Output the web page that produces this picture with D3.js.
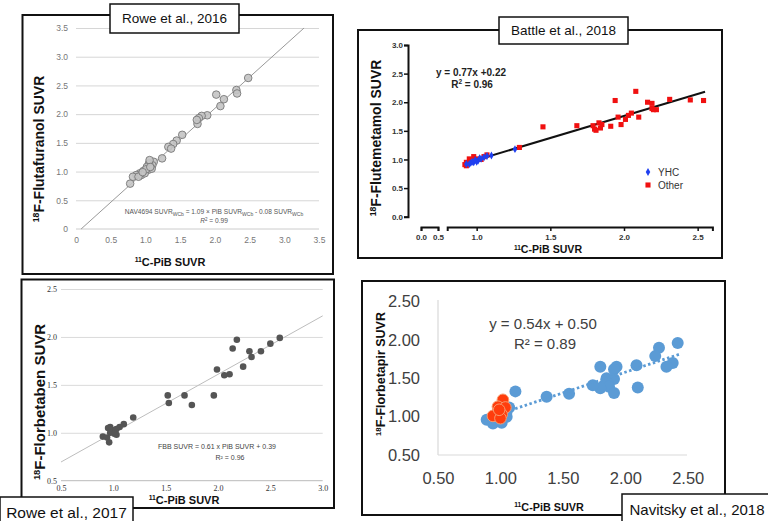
<!DOCTYPE html>
<html>
<head>
<meta charset="utf-8">
<script src="https://cdn.jsdelivr.net/npm/d3@7"></script>
<style>
body { margin: 0; background: #fff; }
text { font-family: "Liberation Sans", Arial, sans-serif; }
</style>
</head>
<body>
<div id="canvas"></div>
<script>
// Rowe et al., 2016 (flutafuranol vs PiB)
const rowe16Points = [
    [0.78, 0.79], [2.48, 2.63], [2.31, 2.42], [2.32, 2.36], [2.02, 2.34], [2.13, 2.26],
    [2.08, 2.14], [1.89, 1.98], [1.81, 1.97], [1.77, 1.93], [1.75, 1.83], [1.74, 1.90],
    [1.53, 1.64], [1.45, 1.54], [1.40, 1.48], [1.33, 1.43], [1.37, 1.40], [1.24, 1.23],
    [1.12, 1.17], [1.10, 1.11], [1.05, 1.14], [1.02, 1.08], [1.04, 1.03], [0.97, 1.01],
    [0.92, 0.97], [0.87, 0.94], [0.94, 0.94], [0.82, 0.91], [0.99, 0.97], [1.09, 1.05],
    [0.90, 0.91], [1.01, 1.04], [1.06, 1.20], [1.07, 1.08], [0.96, 0.99]
];
const rowe16Fit = [1.09, -0.08];
const rowe16Ticks = [0, 0.5, 1, 1.5, 2, 2.5, 3, 3.5];

// Battle et al., 2018 (flutemetamol vs PiB)
const battleOther = [
    [2.54, 2.03], [2.45, 2.04], [2.31, 2.05], [2.08, 2.19], [1.94, 2.03], [2.16, 2.00],
    [2.19, 1.98], [2.19, 1.89], [2.22, 1.87], [2.20, 1.87], [2.05, 1.81], [2.03, 1.77],
    [2.10, 1.74], [1.96, 1.74], [2.01, 1.70], [1.98, 1.61], [1.91, 1.58], [1.83, 1.64],
    [1.85, 1.61], [1.79, 1.59], [1.80, 1.53], [1.81, 1.51], [1.84, 1.55], [1.68, 1.59],
    [1.45, 1.57], [1.29, 1.21], [1.07, 1.08], [1.05, 1.05], [1.03, 1.00], [0.98, 1.05],
    [0.95, 1.01], [0.93, 0.95], [0.92, 0.91], [0.93, 0.89], [1.01, 1.01]
];
const battleYHC = [
    [1.26, 1.18], [1.10, 1.07], [1.07, 1.06], [1.05, 1.04], [1.03, 1.01], [1.01, 0.98],
    [1.00, 0.96], [0.98, 0.95], [0.96, 0.94], [0.95, 0.92], [0.93, 0.92], [1.02, 1.02],
    [0.99, 0.99], [0.97, 0.96]
];
const battleFit = [0.77, 0.22];
const battleYTicks = [0, 0.5, 1, 1.5, 2, 2.5, 3];
const battleXTicksLow = [0, 0.5];
const battleXTicks = [1, 1.5, 2, 2.5];

// Rowe et al., 2017 (florbetaben vs PiB)
const rowe17Points = [
    [2.59, 1.99], [2.50, 1.93], [2.41, 1.85], [2.30, 1.85], [2.32, 1.79], [2.24, 1.69],
    [2.18, 1.97], [2.14, 1.88], [2.11, 1.61], [2.06, 1.60], [1.99, 1.66], [1.96, 1.39],
    [1.75, 1.29], [1.68, 1.39], [1.52, 1.39], [1.53, 1.31], [1.19, 1.16], [1.10, 1.09],
    [1.06, 1.06], [1.03, 1.04], [1.00, 1.01], [1.03, 0.98], [0.97, 1.06], [0.95, 1.05],
    [0.98, 1.03], [1.02, 1.03], [0.90, 0.96], [0.94, 0.95], [0.96, 0.90], [0.97, 1.00],
    [1.01, 0.99]
];
const rowe17Fit = [0.61, 0.39];
const rowe17XTicks = [0.5, 1, 1.5, 2, 2.5, 3];
const rowe17YTicks = [0.5, 1, 1.5, 2, 2.5];

// Navitsky et al., 2018 (florbetapir vs PiB)
const navBlue = [
    [2.42, 1.96], [2.27, 1.90], [2.24, 1.79], [2.38, 1.70], [2.33, 1.65], [2.09, 1.67],
    [2.10, 1.38], [1.93, 1.65], [1.91, 1.62], [1.80, 1.65], [1.85, 1.50], [1.91, 1.49],
    [1.86, 1.43], [1.83, 1.41], [1.87, 1.39], [1.91, 1.31], [1.80, 1.37], [1.74, 1.41],
    [1.55, 1.30], [1.37, 1.26], [1.12, 1.33], [1.07, 1.12], [1.05, 1.00], [0.89, 0.96],
    [0.94, 0.91], [1.01, 0.92], [0.97, 0.96], [1.02, 1.00], [1.05, 1.07]
];
const navRed = [
    [1.02, 1.22], [0.98, 1.13], [1.04, 1.12], [0.97, 1.04], [1.01, 1.03], [0.94, 1.01],
    [1.00, 0.98], [0.99, 1.09]
];
const navFit = [0.54, 0.50];
const navTicks = [0.5, 1, 1.5, 2, 2.5];

const svg = d3.select("#canvas").append("svg")
    .attr("width", 768)
    .attr("height", 521);

svg.append("rect").attr("width", 768).attr("height", 521).attr("fill", "#fff");

function frame(x, y, w, h) {
    svg.append("rect")
        .attr("x", x).attr("y", y)
        .attr("width", w).attr("height", h)
        .attr("fill", "none")
        .attr("stroke", "#111")
        .attr("stroke-width", 2);
}

function tag(x, y, w, h, label, size) {
    svg.append("rect")
        .attr("x", x).attr("y", y)
        .attr("width", w).attr("height", h)
        .attr("fill", "#fff")
        .attr("stroke", "#111")
        .attr("stroke-width", 1.5);
    svg.append("text")
        .attr("x", x + w / 2).attr("y", y + h / 2 + size * 0.36)
        .attr("text-anchor", "middle")
        .style("font-size", size + "px")
        .style("fill", "#111")
        .text(label);
}

// axis title with a superscript isotope prefix
function isoLabel(x, y, sup, rest, size, rotate) {
    const t = svg.append("text")
        .attr("transform", `translate(${x},${y})` + (rotate ? " rotate(-90)" : ""))
        .attr("text-anchor", "middle")
        .style("font-size", size + "px")
        .style("font-weight", "bold")
        .style("fill", "#111");
    t.append("tspan").style("font-size", (size * 0.62) + "px").attr("dy", -size * 0.33).text(sup);
    t.append("tspan").attr("dy", size * 0.33).text(rest);
}

//Panel 1

frame(22.5, 15, 310.5, 259);

const x1 = d3.scaleLinear().domain([0, 3.5]).range([76, 319]);
const y1 = d3.scaleLinear().domain([0, 3.5]).range([229, 28]);
const g1 = svg.append("g");

g1.append("g")
    .attr("transform", "translate(76,0)")
    .call(d3.axisLeft(y1).tickValues(rowe16Ticks.slice(1)).tickSize(-243).tickFormat(""))
    .call(g => g.select(".domain").remove())
    .call(g => g.selectAll("line").attr("stroke", "#d6d6d6"));

g1.append("line")
    .attr("x1", 76).attr("x2", 319)
    .attr("y1", y1(0)).attr("y2", y1(0))
    .attr("stroke", "#ccc");

g1.append("g")
    .attr("transform", "translate(76,0)")
    .call(d3.axisLeft(y1).tickValues(rowe16Ticks).tickSize(0).tickPadding(8)
        .tickFormat(d => d === 0 ? "0" : d.toFixed(1)))
    .call(g => g.select(".domain").remove())
    .call(g => g.selectAll("text").style("font-size", "8.5px").style("fill", "#777")
        .style("font-family", "Liberation Sans, Arial, sans-serif"));

g1.append("g")
    .attr("transform", `translate(0,${y1(0)})`)
    .call(d3.axisBottom(x1).tickValues(rowe16Ticks).tickSize(0).tickPadding(8)
        .tickFormat(d => d === 0 ? "0" : d.toFixed(1)))
    .call(g => g.select(".domain").remove())
    .call(g => g.selectAll("text").style("font-size", "8.5px").style("fill", "#777")
        .style("font-family", "Liberation Sans, Arial, sans-serif"));

const fit1x0 = -rowe16Fit[1] / rowe16Fit[0];
const fit1x1 = (3.5 - rowe16Fit[1]) / rowe16Fit[0];
g1.append("line")
    .attr("x1", x1(fit1x0)).attr("y1", y1(0))
    .attr("x2", x1(fit1x1)).attr("y2", y1(3.5))
    .attr("stroke", "#999")
    .attr("stroke-width", 1);

g1.selectAll("circle").data(rowe16Points).enter().append("circle")
    .attr("cx", d => x1(d[0]))
    .attr("cy", d => y1(d[1]))
    .attr("r", 3.8)
    .attr("fill", "#c4c4c4")
    .attr("fill-opacity", 0.9)
    .attr("stroke", "#777")
    .attr("stroke-width", 0.9);

const eq1 = g1.append("text")
    .attr("x", 214).attr("y", 214)
    .attr("text-anchor", "middle")
    .style("font-size", "6.6px")
    .style("fill", "#555");
eq1.append("tspan").text("NAV4694 SUVR");
eq1.append("tspan").attr("dy", 2).style("font-size", "5px").text("WCb");
eq1.append("tspan").attr("dy", -2).text(" = 1.09 × PiB SUVR");
eq1.append("tspan").attr("dy", 2).style("font-size", "5px").text("WCb");
eq1.append("tspan").attr("dy", -2).text(" - 0.08 SUVR");
eq1.append("tspan").attr("dy", 2).style("font-size", "5px").text("WCb");

const r1 = g1.append("text")
    .attr("x", 214).attr("y", 223)
    .attr("text-anchor", "middle")
    .style("font-size", "6.6px")
    .style("fill", "#555");
r1.append("tspan").style("font-style", "italic").text("R");
r1.append("tspan").attr("dy", -2.5).style("font-size", "4.5px").text("2");
r1.append("tspan").attr("dy", 2.5).text(" = 0.99");

isoLabel(44, 149, "18", "F-Flutafuranol SUVR", 14, true);
isoLabel(170, 266, "11", "C-PiB SUVR", 11, false);

tag(110, 4, 129, 29, "Rowe et al., 2016", 13.5);

//Panel 2

frame(358, 30, 364, 228);

const y2 = d3.scaleLinear().domain([0, 3]).range([216.7, 45]);
const x2a = d3.scaleLinear().domain([0, 0.5]).range([421, 438]);
const x2 = d3.scaleLinear().domain([0.8, 2.6]).range([447.2, 712.4]);
const g2 = svg.append("g");

function boldAxis(g) {
    g.select(".domain").attr("stroke", "#111").attr("stroke-width", 2);
    g.selectAll("line").attr("stroke", "#111").attr("stroke-width", 1.5);
    g.selectAll("text").style("font-size", "8px").style("font-weight", "bold").style("fill", "#333")
        .style("font-family", "Liberation Sans, Arial, sans-serif");
}

g2.append("g")
    .attr("transform", "translate(408,0)")
    .call(d3.axisLeft(y2).tickValues(battleYTicks).tickSize(4).tickPadding(1).tickFormat(d3.format(".1f")))
    .call(boldAxis);

g2.append("g")
    .attr("transform", "translate(0,227)")
    .call(d3.axisBottom(x2a).tickValues(battleXTicksLow).tickSize(4).tickPadding(3).tickFormat(d3.format(".1f")))
    .call(boldAxis);

g2.append("g")
    .attr("transform", "translate(0,227)")
    .call(d3.axisBottom(x2).tickValues(battleXTicks).tickSize(4).tickPadding(3).tickFormat(d3.format(".1f")))
    .call(boldAxis);

g2.append("line")
    .attr("x1", x2(0.91)).attr("y1", y2(battleFit[0] * 0.91 + battleFit[1]))
    .attr("x2", x2(2.55)).attr("y2", y2(battleFit[0] * 2.55 + battleFit[1]))
    .attr("stroke", "#111")
    .attr("stroke-width", 2);

g2.selectAll("path.other").data(battleOther).enter().append("path")
    .attr("class", "other")
    .attr("d", d3.symbol(d3.symbolSquare, 26))
    .attr("transform", d => `translate(${x2(d[0])},${y2(d[1])})`)
    .attr("fill", "#f01010");

g2.selectAll("path.yhc").data(battleYHC).enter().append("path")
    .attr("class", "yhc")
    .attr("d", d3.symbol(d3.symbolDiamond, 18))
    .attr("transform", d => `translate(${x2(d[0])},${y2(d[1])})`)
    .attr("fill", "#1f3ff0");

g2.append("path")
    .attr("d", d3.symbol(d3.symbolDiamond, 18))
    .attr("transform", "translate(648,172)")
    .attr("fill", "#1f3ff0");
g2.append("path")
    .attr("d", d3.symbol(d3.symbolSquare, 26))
    .attr("transform", "translate(648,185)")
    .attr("fill", "#f01010");
g2.append("text").attr("x", 658).attr("y", 175.5).style("font-size", "10px").style("fill", "#333").text("YHC");
g2.append("text").attr("x", 658).attr("y", 188.5).style("font-size", "10px").style("fill", "#333").text("Other");

g2.append("text")
    .attr("x", 471).attr("y", 75.5)
    .attr("text-anchor", "middle")
    .style("font-size", "10px").style("font-weight", "bold").style("fill", "#222")
    .text("y = 0.77x +0.22");
const r2 = g2.append("text")
    .attr("x", 472).attr("y", 88)
    .attr("text-anchor", "middle")
    .style("font-size", "10px").style("font-weight", "bold").style("fill", "#222");
r2.append("tspan").text("R");
r2.append("tspan").attr("dy", -4).style("font-size", "6.5px").text("2");
r2.append("tspan").attr("dy", 4).text(" = 0.96");

isoLabel(381, 138, "18", "F-Flutemetamol SUVR", 14, true);
isoLabel(548, 253, "11", "C-PiB SUVR", 10.6, false);

tag(499, 17, 129, 27, "Battle et al., 2018", 13.5);

//Panel 3

frame(21.5, 279.5, 312.5, 228.5);

const x3 = d3.scaleLinear().domain([0.5, 3]).range([61, 322.7]);
const y3 = d3.scaleLinear().domain([0.5, 2.5]).range([480.7, 289]);
const g3 = svg.append("g");

g3.append("g")
    .attr("transform", "translate(61,0)")
    .call(d3.axisLeft(y3).tickValues(rowe17YTicks.slice(1)).tickSize(-261.7).tickFormat(""))
    .call(g => g.select(".domain").remove())
    .call(g => g.selectAll("line").attr("stroke", "#dadada"));

g3.append("line")
    .attr("x1", 61).attr("x2", 322.7)
    .attr("y1", y3(0.5)).attr("y2", y3(0.5))
    .attr("stroke", "#bbb");

g3.append("g")
    .attr("transform", "translate(61,0)")
    .call(d3.axisLeft(y3).tickValues(rowe17YTicks).tickSize(0).tickPadding(4).tickFormat(d3.format(".1f")))
    .call(g => g.select(".domain").remove())
    .call(g => g.selectAll("text").style("font-size", "8px").style("fill", "#333")
        .style("font-family", "Liberation Serif, Times New Roman, serif"));

g3.append("g")
    .attr("transform", `translate(0,${y3(0.5)})`)
    .call(d3.axisBottom(x3).tickValues(rowe17XTicks).tickSize(0).tickPadding(5).tickFormat(d3.format(".1f")))
    .call(g => g.select(".domain").remove())
    .call(g => g.selectAll("text").style("font-size", "8px").style("fill", "#333")
        .style("font-family", "Liberation Serif, Times New Roman, serif"));

g3.append("line")
    .attr("x1", x3(0.5)).attr("y1", y3(rowe17Fit[0] * 0.5 + rowe17Fit[1]))
    .attr("x2", x3(3)).attr("y2", y3(rowe17Fit[0] * 3 + rowe17Fit[1]))
    .attr("stroke", "#bdbdbd")
    .attr("stroke-width", 1);

g3.selectAll("circle").data(rowe17Points).enter().append("circle")
    .attr("cx", d => x3(d[0]))
    .attr("cy", d => y3(d[1]))
    .attr("r", 3.3)
    .attr("fill", "#555");

g3.append("text")
    .attr("x", 217).attr("y", 449)
    .attr("text-anchor", "middle")
    .style("font-size", "7px").style("fill", "#444")
    .text("FBB SUVR = 0.61 x PiB SUVR + 0.39");
g3.append("text")
    .attr("x", 230).attr("y", 459.5)
    .attr("text-anchor", "middle")
    .style("font-size", "7px").style("fill", "#444")
    .text("R² = 0.96");

isoLabel(45, 402, "18", "F-Florbetaben SUVR", 15, true);
isoLabel(184, 504, "11", "C-PiB SUVR", 11, false);

tag(0, 497, 133, 30, "Rowe et al., 2017", 15.5);

//Panel 4

frame(362, 281, 363, 234);

const x4 = d3.scaleLinear().domain([0.5, 2.5]).range([438, 687.7]);
const y4 = d3.scaleLinear().domain([0.5, 2.5]).range([455, 301.7]);
const g4 = svg.append("g");

g4.append("line")
    .attr("x1", 438).attr("x2", 438)
    .attr("y1", 300).attr("y2", 455)
    .attr("stroke", "#d9d9d9").attr("stroke-width", 1.2);
g4.append("line")
    .attr("x1", 438).attr("x2", 687)
    .attr("y1", 455).attr("y2", 455)
    .attr("stroke", "#d9d9d9").attr("stroke-width", 1.2);

g4.append("g")
    .attr("transform", "translate(438,0)")
    .call(d3.axisLeft(y4).tickValues(navTicks).tickSize(0).tickPadding(18).tickFormat(d3.format(".2f")))
    .call(g => g.select(".domain").remove())
    .call(g => g.selectAll("text").style("font-size", "16.5px").style("fill", "#404040")
        .style("font-family", "Liberation Sans, Arial, sans-serif"));

g4.append("g")
    .attr("transform", "translate(0,455)")
    .call(d3.axisBottom(x4).tickValues(navTicks).tickSize(0).tickPadding(17).tickFormat(d3.format(".2f")))
    .call(g => g.select(".domain").remove())
    .call(g => g.selectAll("text").style("font-size", "16.5px").style("fill", "#404040")
        .style("font-family", "Liberation Sans, Arial, sans-serif"));

g4.selectAll("circle.blue").data(navBlue).enter().append("circle")
    .attr("class", "blue")
    .attr("cx", d => x4(d[0]))
    .attr("cy", d => y4(d[1]))
    .attr("r", 6)
    .attr("fill", "#5b9bd5");

g4.append("line")
    .attr("x1", x4(0.89)).attr("y1", y4(navFit[0] * 0.89 + navFit[1]))
    .attr("x2", x4(2.44)).attr("y2", y4(navFit[0] * 2.44 + navFit[1]))
    .attr("stroke", "#5b9bd5")
    .attr("stroke-width", 2.8)
    .attr("stroke-dasharray", "2.5,2.5");

g4.selectAll("circle.red").data(navRed).enter().append("circle")
    .attr("class", "red")
    .attr("cx", d => x4(d[0]))
    .attr("cy", d => y4(d[1]))
    .attr("r", 5.8)
    .attr("fill", "#ff3d0d")
    .attr("stroke", "#f79a6e")
    .attr("stroke-width", 1);

g4.append("text")
    .attr("x", 543).attr("y", 328.5)
    .attr("text-anchor", "middle")
    .style("font-size", "15px").style("fill", "#404040")
    .text("y = 0.54x + 0.50");
g4.append("text")
    .attr("x", 545).attr("y", 348.5)
    .attr("text-anchor", "middle")
    .style("font-size", "15px").style("fill", "#404040")
    .text("R² = 0.89");

isoLabel(385, 374, "18", "F-Florbetapir SUVR", 12.5, true);
isoLabel(549, 511, "11", "C-PiB SUVR", 10.8, false);

tag(622, 494, 150, 32, "Navitsky et al., 2018", 15);
</script>
</body>
</html>
